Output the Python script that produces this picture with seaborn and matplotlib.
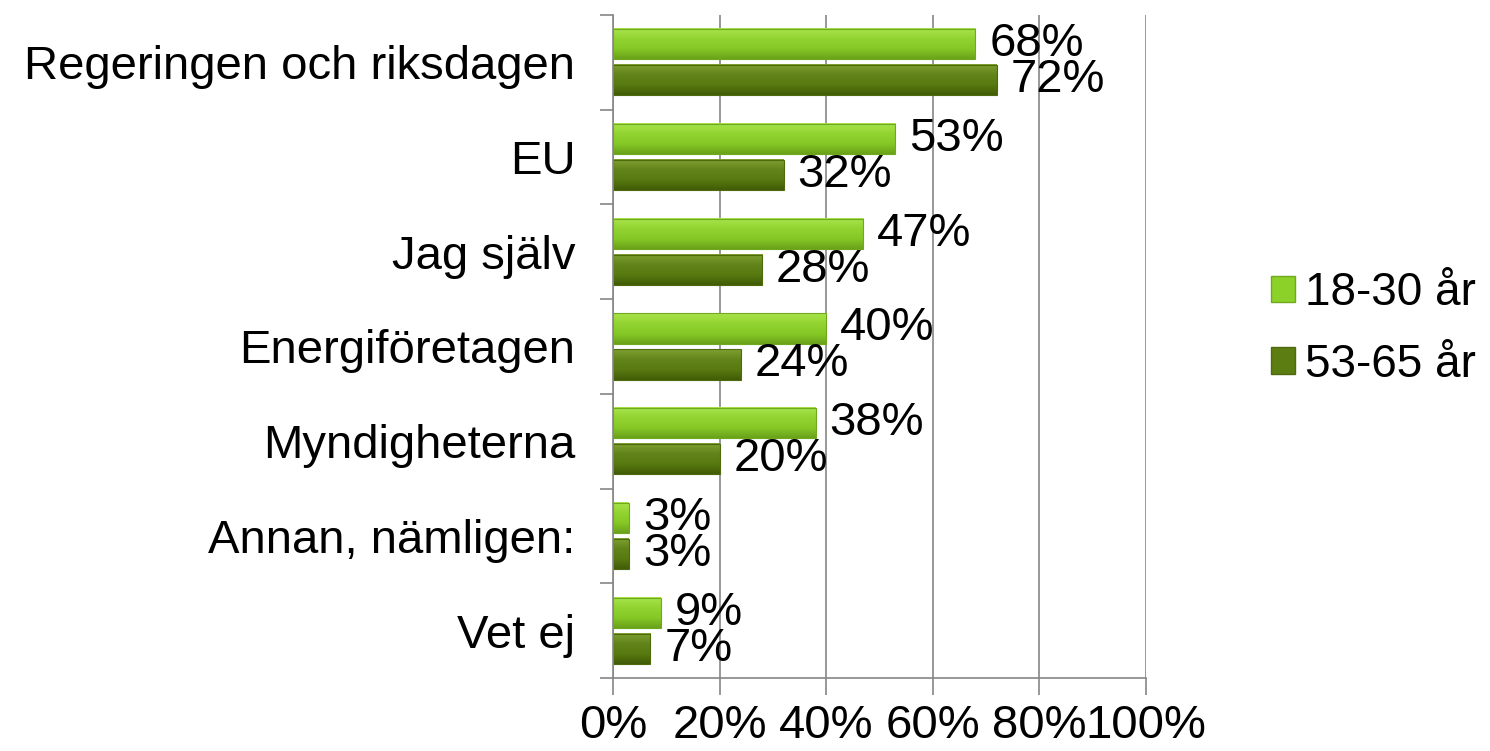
import matplotlib
matplotlib.use("Agg")
import matplotlib.pyplot as plt
from matplotlib.patches import Patch
from matplotlib.colors import LinearSegmentedColormap
import numpy as np
import pandas as pd
import seaborn as sns

categories = ["Regeringen och riksdagen", "EU", "Jag själv", "Energiföretagen",
              "Myndigheterna", "Annan, nämligen:", "Vet ej"]
young = [68, 53, 47, 40, 38, 3, 9]
old = [72, 32, 28, 24, 20, 3, 7]
groups = ["18-30 år", "53-65 år"]
xticks = [0, 20, 40, 60, 80, 100]

light = "#8cd02a"
dark = "#5c7d12"
axcol = "#868686"

df = pd.DataFrame({
    "kat": categories * 2,
    "varde": young + old,
    "grupp": [groups[0]] * len(categories) + [groups[1]] * len(categories),
})

sns.set_style("white")
plt.rcParams["font.family"] = ["Liberation Sans", "DejaVu Sans"]
plt.rcParams["text.color"] = "black"
plt.rcParams["xtick.color"] = "black"
plt.rcParams["ytick.color"] = "black"

fig = plt.figure(figsize=(14.9, 7.51), dpi=100)
ax = fig.add_axes([0.4114, 0.0972, 0.3577, 0.883])

sns.barplot(data=df, x="varde", y="kat", hue="grupp", orient="h",
            palette=[light, dark], gap=0.16, width=0.76, ax=ax,
            legend=False, zorder=3, linewidth=0)

# gradient overlay on each bar for the glossy look
grads = {
    0: LinearSegmentedColormap.from_list("g1", ["#a9e44c", "#92d431", "#86c926", "#6aa21a"]),
    1: LinearSegmentedColormap.from_list("g2", ["#80a032", "#62841a", "#587a10", "#425c07"]),
}
grad = np.linspace(0, 1, 64).reshape(-1, 1)
for i, cont in enumerate(ax.containers):
    for p in cont:
        x0, y0 = p.get_x(), p.get_y()
        w, h = p.get_width(), p.get_height()
        ax.imshow(grad, extent=(x0, x0 + w, y0 + h, y0), cmap=grads[i],
                  aspect="auto", zorder=3.5, origin="upper")
        p.set_edgecolor("#4d6b0c" if i == 1 else "#6fa91e")
        p.set_linewidth(0.8)
        p.set_zorder(3.6)
        p.set_facecolor("none")
    ax.bar_label(cont, labels=[f"{v:.0f}%" for v in cont.datavalues],
                 padding=10, fontsize=34, color="black", zorder=5)

ax.set_xlim(0, 100)
ax.set_ylim(6.5, -0.5)
ax.set_xticks(xticks)
ax.set_xticklabels([f"{t}%" for t in xticks], fontsize=34)
ax.set_xlabel("")
ax.set_ylabel("")
ax.tick_params(axis="y", which="major", left=False, length=0, pad=27, labelsize=34)
ax.set_yticks(np.arange(-0.5, len(categories)), minor=True)
ax.tick_params(axis="y", which="minor", left=True, length=9.5, width=1.2, color=axcol)
ax.tick_params(axis="x", which="major", bottom=True, length=12, width=1.2, color=axcol, pad=7)
ax.grid(axis="x", color=axcol, linewidth=1.2, zorder=0)
ax.grid(axis="y", visible=False)
for s in ["top", "right"]:
    ax.spines[s].set_visible(False)
for s in ["left", "bottom"]:
    ax.spines[s].set_color(axcol)
    ax.spines[s].set_linewidth(1.2)
    ax.spines[s].set_zorder(4)

handles = [Patch(facecolor=light, edgecolor="#6fa91e"), Patch(facecolor=dark, edgecolor="#4d6b0c")]
fig.legend(handles, groups, loc="center left", bbox_to_anchor=(0.853, 0.562),
           frameon=False, fontsize=33, handlelength=0.52, handleheight=0.52,
           handletextpad=0.22, labelspacing=0.6, borderpad=0, borderaxespad=0)

fig.savefig("out.png", dpi=100)
